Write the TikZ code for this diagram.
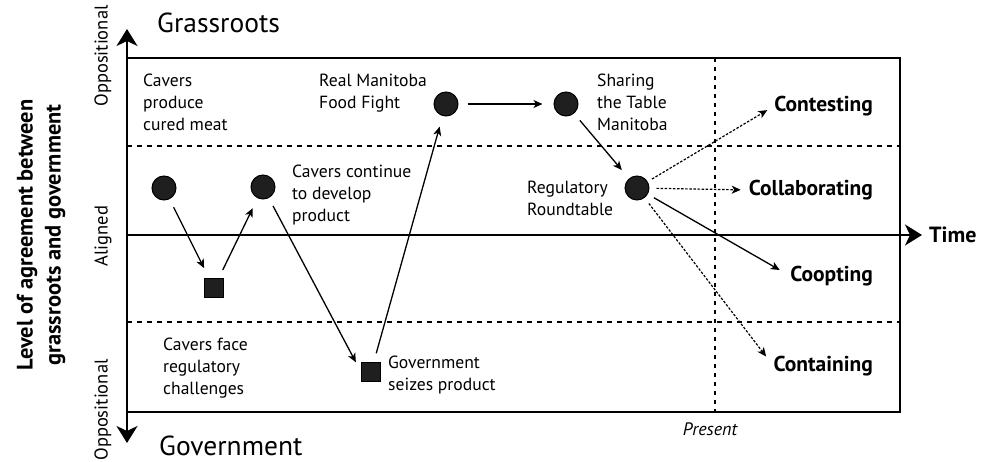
\documentclass[tikz,border=0pt]{standalone}
\usepackage{fontspec}
\setmainfont{PT Sans}
\usetikzlibrary{arrows.meta}
\tikzset{
  frame/.style={line width=2pt},
  band/.style={line width=1.8pt, dash pattern=on 5pt off 5pt},
  nowline/.style={line width=1.8pt, dash pattern=on 4pt off 5pt},
  axis/.style={line width=2pt, -{Stealth[length=17pt,width=21pt,inset=5pt]}},
  event/.style={circle, draw=black, fill=black!88, minimum size=24pt, inner sep=0pt, line width=1pt},
  setback/.style={rectangle, draw=black, fill=black!88, minimum size=19pt, inner sep=0pt, line width=1pt},
  lbl/.style={font=\fontsize{17.6}{22}\selectfont, align=left, inner sep=0pt, anchor=base west},
  outcome/.style={font=\bfseries\fontsize{21.5}{24}\selectfont, inner sep=0pt, anchor=east},
  side/.style={font=\fontsize{18.5}{20}\selectfont, rotate=90, inner sep=0pt},
  flow/.style={line width=1.3pt, -{Stealth[length=9pt,width=8pt,inset=2.5pt]}, shorten <=9pt, shorten >=11pt},
  maybe/.style={flow, dash pattern=on 2.5pt off 1.6pt, line width=1.2pt},
}
\begin{document}
\begin{tikzpicture}[x=1pt,y=-1pt]
\useasboundingbox (0,0) rectangle (993,462);
% frame and axes
\draw[frame] (127,58) rectangle (900,412);
\draw[band] (127,146) -- (900,146);
\draw[band] (127,322) -- (900,322);
\draw[nowline] (715,58) -- (715,412);
\coordinate (ytop) at (127,29);
\coordinate (ybot) at (127,443);
\coordinate (xorg) at (127,235);
\coordinate (xend) at (922,235);
\draw[axis] (127,236) -- (ytop);
\draw[axis] (127,234) -- (ybot);
\draw[axis] (xorg) -- (xend);
\node[font=\bfseries\fontsize{22}{24}\selectfont, anchor=west, inner sep=0pt] (time) at (929,235) {Time};
\node[font=\fontsize{27.5}{30}\selectfont, anchor=base west, inner sep=0pt] (grass) at (157,33) {Grassroots};
\node[font=\fontsize{27.5}{30}\selectfont, anchor=base west, inner sep=0pt] (gov) at (159,455) {Government};
\node[font=\itshape\fontsize{18}{20}\selectfont, anchor=base, inner sep=0pt] (present) at (710,435) {Present};
% side labels
\node[side] (opptop) at (103,56) {Oppositional};
\node[side] (align) at (103,236) {Aligned};
\node[side] (oppbot) at (103,410) {Oppositional};
\node[font=\bfseries\fontsize{22.4}{28}\selectfont, rotate=90, align=center, inner sep=0pt] (ylabel) at (41,235) {Level of agreement between\\grassroots and government};
% events
\node[event] (c1) at (164,188) {};
\node[event] (c2) at (263,187) {};
\node[setback] (s1) at (214,288) {};
\node[setback] (s2) at (371,372) {};
\node[event] (c3) at (446,104) {};
\node[event] (c4) at (566,104) {};
\node[event] (c5) at (637,188) {};
% event labels (anchored at the baseline of the last line)
\node[lbl] (t1) at (143,131) {Cavers\\produce\\cured meat};
\node[lbl] (t2) at (292,222) {Cavers continue\\to develop\\product};
\node[lbl] (t3) at (163,394) {Cavers face\\regulatory\\challenges};
\node[lbl] (t4) at (388,390) {Government\\seizes product};
\node[lbl] (t5) at (319,109) {Real Manitoba\\Food Fight};
\node[lbl] (t6) at (597,131) {Sharing\\the Table\\Manitoba};
\node[lbl] (t7) at (527,216) {Regulatory\\Roundtable};
% outcomes
\node[outcome] (o1) at (873,106) {Contesting};
\node[outcome] (o2) at (873,190) {Collaborating};
\node[outcome] (o3) at (873,276) {Coopting};
\node[outcome] (o4) at (873,366) {Containing};
% connectors
\draw[flow] (c1) -- (s1);
\draw[flow] (s1) -- (c2);
\draw[flow] (c2) -- (s2.west);
\draw[flow] (s2) -- (c3);
\draw[flow] (c3) -- (c4);
\draw[flow] (c4) -- (c5);
\draw[maybe, shorten <=5pt, shorten >=8pt] (c5) -- (o1.west);
\draw[maybe, shorten <=7pt, shorten >=8pt] (c5) -- (o2.west);
\draw[flow, shorten <=7pt, shorten >=12pt] (c5) -- (o3.west);
\draw[maybe, shorten <=7pt, shorten >=12pt] (c5) -- (o4.west);
\end{tikzpicture}
\end{document}
